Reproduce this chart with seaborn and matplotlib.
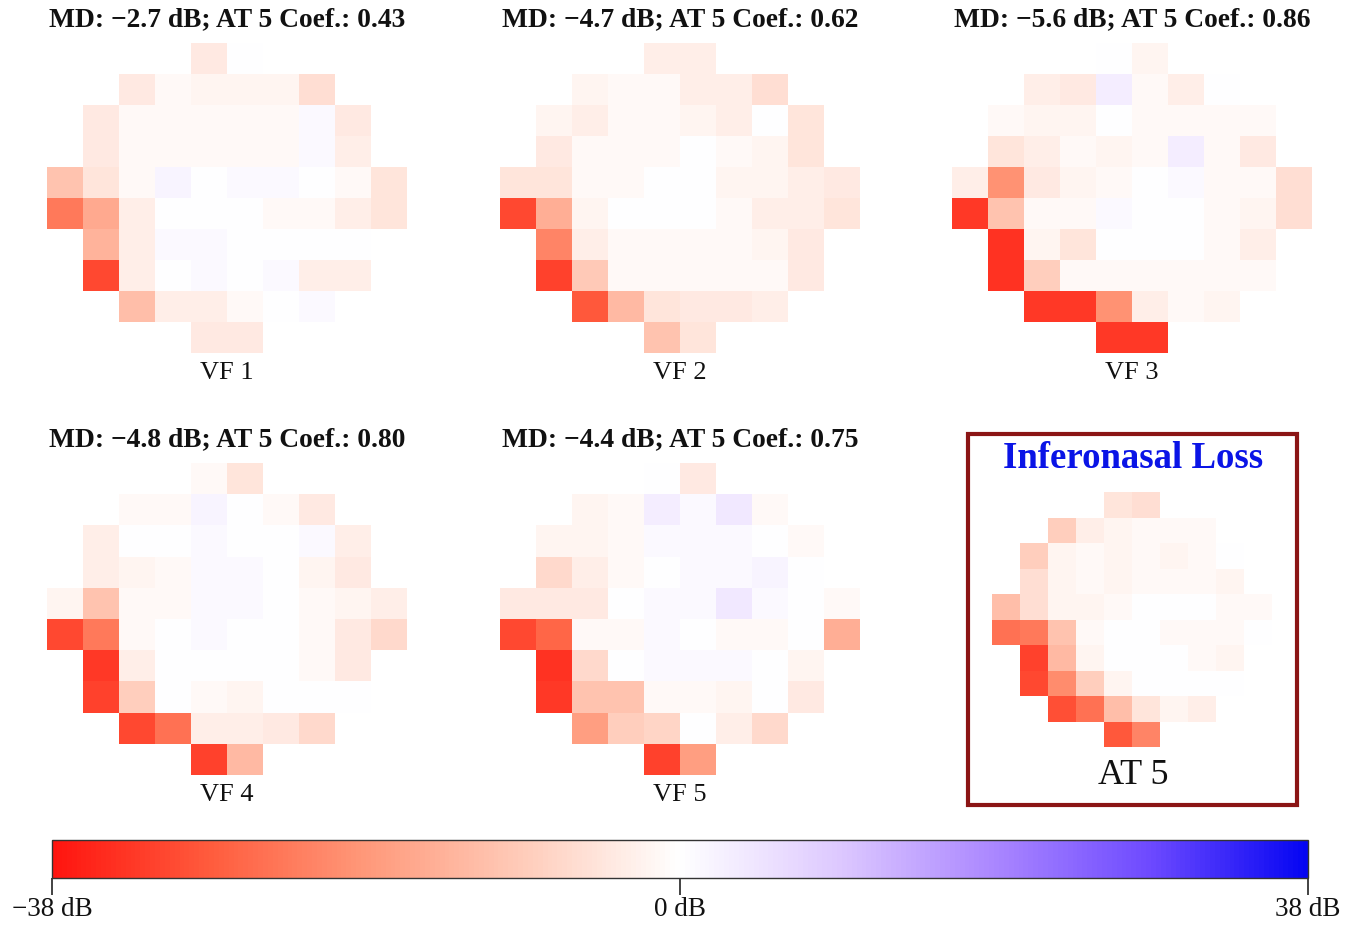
import numpy as np
import pandas as pd
import matplotlib
matplotlib.use("Agg")
import matplotlib.pyplot as plt
import seaborn as sns
from matplotlib.colors import LinearSegmentedColormap
from matplotlib.patches import Rectangle

sns.set_theme(style="white")
plt.rcParams['font.family'] = ['Liberation Serif', 'DejaVu Serif']

# visual-field cell layout: visible column range per row (10 x 10 grid)
row_cols = [(4, 5), (2, 7), (1, 8), (1, 8), (0, 9), (0, 9), (1, 8), (1, 8), (2, 7), (4, 5)]

# total deviation values (dB), row by row, only the visible cells
vf1 = [
    [-4, 0],
    [-4, -1, -2, -2, -2, -6],
    [-4, -1, -1, -1, -1, -1, 1, -4],
    [-4, -1, -1, -1, -1, -1, 1, -3],
    [-11, -5, -1, 2, 0, 1, 1, 0, -1, -5],
    [-24, -16, -3, 0, 0, 0, -1, -1, -3, -5],
    [-14, -3, 1, 1, 0, 0, 0, 0],
    [-31, -3, 0, 1, 0, 1, -3, -3],
    [-12, -3, -3, -1, 0, 1],
    [-4, -4],
]
vf2 = [
    [-3, -3],
    [-2, -1, -1, -3, -3, -6],
    [-2, -3, -1, -1, -2, -3, 0, -5],
    [-4, -1, -1, -1, 0, -1, -2, -5],
    [-5, -5, -1, -1, 0, 0, -2, -2, -3, -4],
    [-31, -15, -2, 0, 0, 0, -1, -3, -3, -5],
    [-22, -3, -1, -1, -1, -1, -2, -4],
    [-32, -10, -1, -1, -1, -1, -1, -4],
    [-29, -13, -5, -4, -4, -3],
    [-11, -5],
]
vf3 = [
    [0, -2],
    [-3, -4, 3, -1, -3, 0],
    [-1, -2, -2, 0, -1, -1, -1, -1],
    [-5, -3, -1, -2, -1, 3, -1, -4],
    [-3, -20, -4, -2, -1, 0, 1, -1, -1, -6],
    [-33, -11, -1, -1, 1, 0, 0, -1, -2, -6],
    [-34, -2, -5, 0, 0, 0, -1, -3],
    [-34, -9, -1, -1, -1, -1, -1, -1],
    [-33, -33, -20, -3, -1, -2],
    [-33, -33],
]
vf4 = [
    [-1, -5],
    [-1, -1, 2, 0, -1, -4],
    [-3, 0, 0, 1, 0, 0, 1, -3],
    [-3, -2, -1, 1, 1, 0, -2, -4],
    [-2, -11, -1, -1, 1, 1, 0, -1, -2, -3],
    [-31, -24, -1, 0, 1, 0, 0, -1, -4, -7],
    [-33, -3, 0, 0, 0, 0, -1, -4],
    [-32, -9, 0, -1, -2, 0, 0, 0],
    [-31, -25, -3, -3, -4, -7],
    [-32, -13],
]
vf5 = [
    [0, -4],
    [-2, -1, 3, 1, 4, -1],
    [-2, -2, -1, 1, 1, 1, 0, -1],
    [-7, -3, -1, 0, 1, 1, 2, 0],
    [-4, -4, -4, 0, 1, 1, 4, 1, 0, -1],
    [-31, -27, -1, -1, 1, 0, -1, -1, 0, -15],
    [-34, -7, 0, 1, 1, 1, 0, -2],
    [-33, -11, -11, -1, -1, -2, 0, -4],
    [-18, -9, -8, 0, -3, -7],
    [-32, -18],
]
at5 = [
    [-5, -6],
    [-9, -3, -2, -1, -1, -1],
    [-9, -2, -1, -2, -1, -2, -1, 0],
    [-6, -2, -1, -2, -1, -1, -1, -2],
    [-12, -6, -2, -2, -1, 0, 0, 0, -1, -1],
    [-25, -24, -11, -1, 0, 0, -1, -1, -1, 0],
    [-32, -13, -2, 0, 0, 0, -1, -2],
    [-31, -21, -9, -2, 0, 0, 0, 0],
    [-30, -25, -12, -5, -2, -3],
    [-29, -22],
]

md_values = ["−2.7", "−4.7", "−5.6", "−4.8", "−4.4"]
coef_values = ["0.43", "0.62", "0.86", "0.80", "0.75"]
vf_labels = ["VF 1", "VF 2", "VF 3", "VF 4", "VF 5"]
archetype_title = "Inferonasal Loss"
archetype_label = "AT 5"
cbar_ticks = [-38, 0, 38]
cbar_ticklabels = ["−38 dB", "0 dB", "38 dB"]


def to_grid(rows):
    g = np.full((10, 10), np.nan)
    for r, (c0, c1) in enumerate(row_cols):
        g[r, c0:c1 + 1] = rows[r]
    return pd.DataFrame(g)


cmap = LinearSegmentedColormap.from_list("vf", [
    (0.0, (1.0, 0.08, 0.06)),
    (0.125, (1.0, 0.36, 0.24)),
    (0.25, (1.0, 0.60, 0.48)),
    (0.375, (1.0, 0.80, 0.73)),
    (0.5, (1.0, 1.0, 1.0)),
    (0.625, (0.87, 0.79, 1.0)),
    (0.75, (0.67, 0.53, 1.0)),
    (0.875, (0.43, 0.29, 1.0)),
    (1.0, (0.02, 0.02, 0.95)),
])

W, H = 1359, 927
fig = plt.figure(figsize=(W / 100, H / 100), dpi=100)


def px_axes(x0, y0, x1, y1):
    return fig.add_axes([x0 / W, 1 - y1 / H, (x1 - x0) / W, (y1 - y0) / H])


panels = [
    (vf1, 47, 43, 407, 353),
    (vf2, 500, 43, 860, 353),
    (vf3, 952, 43, 1312, 353),
    (vf4, 47, 463, 407, 775),
    (vf5, 500, 463, 860, 775),
]

mappable = None
for i, (data, x0, y0, x1, y1) in enumerate(panels):
    ax = px_axes(x0, y0, x1, y1)
    sns.heatmap(to_grid(data), ax=ax, cmap=cmap, vmin=-38, vmax=38,
                cbar=False, xticklabels=False, yticklabels=False)
    ax.set_axis_off()
    mappable = ax.collections[0]
    cx = (x0 + x1) / 2
    fig.text(cx / W, 1 - (y0 - 23) / H,
             f"MD: {md_values[i]} dB; AT 5 Coef.: {coef_values[i]}",
             ha="center", va="center", fontsize=19.8, fontweight="bold", color="#111111")
    fig.text(cx / W, 1 - (y1 + 20) / H, vf_labels[i],
             ha="center", va="center", fontsize=19, color="#111111")

# archetype panel
ax = px_axes(992, 492, 1272, 747)
sns.heatmap(to_grid(at5), ax=ax, cmap=cmap, vmin=-38, vmax=38,
            cbar=False, xticklabels=False, yticklabels=False)
ax.set_axis_off()
fig.text(1133 / W, 1 - 459 / H, archetype_title, ha="center", va="center",
         fontsize=26.5, fontweight="bold", color="#0a14e6")
fig.text(1133 / W, 1 - 775 / H, archetype_label, ha="center", va="center",
         fontsize=26, color="#111111")
fig.patches.append(Rectangle((968 / W, 1 - 805 / H), (1297 - 968) / W, (805 - 434) / H,
                             transform=fig.transFigure, fill=False,
                             edgecolor="#8b1515", linewidth=3))

# colorbar
cax = px_axes(52, 840, 1308, 878)
cb = fig.colorbar(mappable, cax=cax, orientation="horizontal", ticks=cbar_ticks)
cb.set_ticklabels(cbar_ticklabels)
cb.outline.set_edgecolor("#333333")
cb.outline.set_linewidth(1.0)
cax.tick_params(axis="x", length=12, width=1.2, color="#222222", labelsize=19.5,
                pad=2, labelcolor="#111111", direction="out", bottom=True)

fig.savefig("out.png", dpi=100, facecolor="white")
